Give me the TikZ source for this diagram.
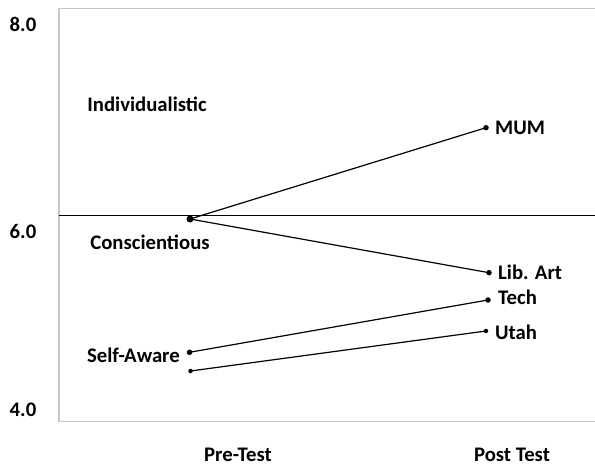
\documentclass[tikz,border=0pt]{standalone}
\usepackage{fontspec}
\setmainfont{Carlito}
\begin{document}
\begin{tikzpicture}[x=1bp,y=-1bp,
  lbl/.style={font=\fontsize{20.8}{24}\selectfont\bfseries, inner sep=0pt, text=black},
  frame/.style={draw=black!22, line width=1.6bp},
  series/.style={draw=black, line width=1.2bp},
  dot/.style={circle, fill=black, inner sep=0pt, minimum size=#1}]
\useasboundingbox (0,0) rectangle (595,466);
% frame
\draw[frame] (595,8.7) -- (59,8.7) -- (59,421.5) -- (595,421.5);
% midline
\coordinate (ml) at (59,215.5);
\coordinate (mr) at (595,215.5);
\draw[black, line width=0.9bp] (ml) -- (mr);
% points
\node[dot=7bp] (c) at (190,219) {};
\node[dot=5.5bp] (mum) at (486,127.7) {};
\node[dot=5.5bp] (lib) at (489,272.7) {};
\node[dot=5.5bp] (tech) at (488,300) {};
\node[dot=4.5bp] (utah) at (486,331) {};
\node[dot=5.5bp] (sa1) at (189.5,352.3) {};
\node[dot=4.5bp] (sa2) at (190.5,371) {};
\draw[series] (c.center) -- (mum.center);
\draw[series] (c.center) -- (lib.center);
\draw[series] (sa1.center) -- (tech.center);
\draw[series] (sa2.center) -- (utah.center);
% axis labels
\node[lbl, anchor=base] (y8) at (23,31.7) {8.0};
\node[lbl, anchor=base] (y6) at (23,239) {6.0};
\node[lbl, anchor=base] (y4) at (23,416) {4.0};
\node[lbl, anchor=base, text depth=0pt] (pre) at (238,461.5) {Pre-Test};
\node[lbl, anchor=base, text depth=0pt] (post) at (512,461.5) {Post Test};
% group labels
\node[lbl, anchor=base] (ind) at (147,112) {Individualistic};
\node[lbl, anchor=base] (con) at (150,249.3) {Conscientious};
\node[lbl, anchor=base east] (saw) at (180,362.3) {Self-Aware};
\node[lbl, anchor=base west] (lmum) at (495,135) {MUM};
\node[lbl, anchor=base west] (llib) at (498,280) {Lib. Art};
\node[lbl, anchor=base west] (ltech) at (498,304.3) {Tech};
\node[lbl, anchor=base west] (lutah) at (495,339) {Utah};
\end{tikzpicture}
\end{document}
